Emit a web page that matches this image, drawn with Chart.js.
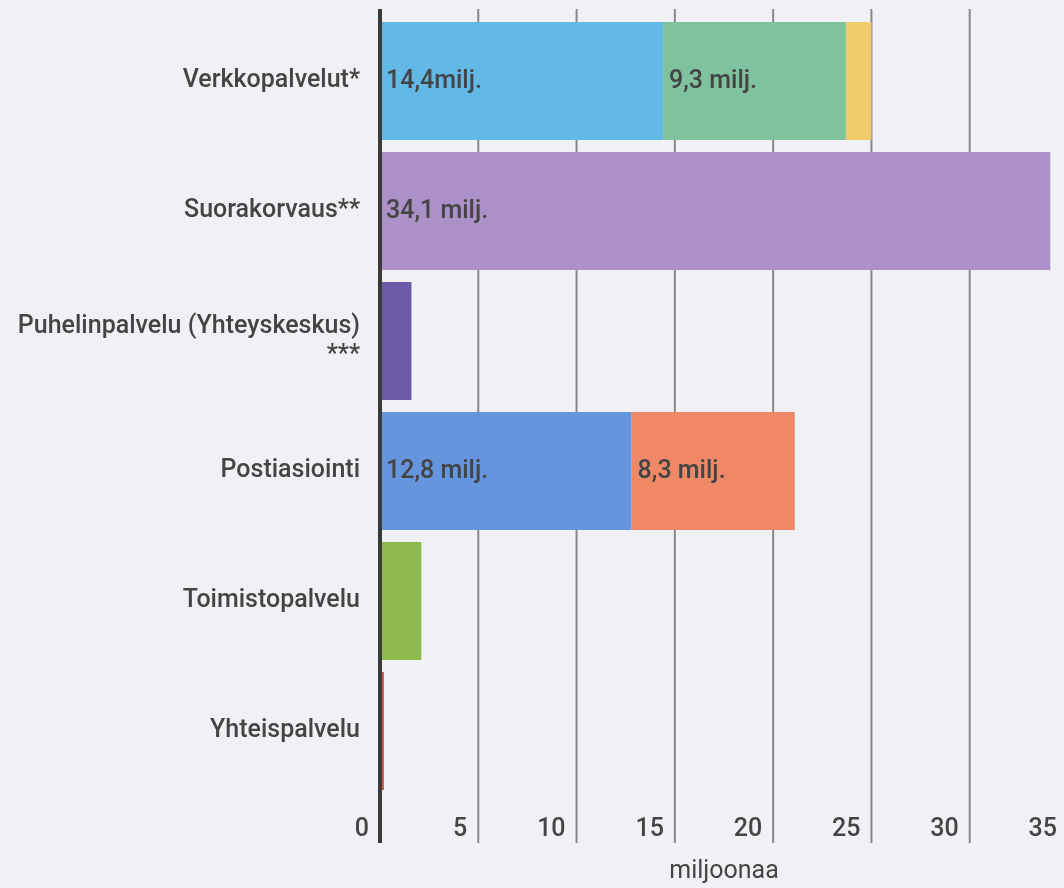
<!DOCTYPE html>
<html>
<head>
<meta charset="utf-8">
<script src="https://cdn.jsdelivr.net/npm/chart.js@4"></script>
<style>
    html, body { margin: 0; padding: 0; overflow: hidden; background: #f0f1f4; }
</style>
</head>
<body>
<canvas id="serviceChart" width="1068" height="888"></canvas>
<script>
// Categories (y axis)
const categories = [
    "Verkkopalvelut*",
    "Suorakorvaus**",
    ["Puhelinpalvelu (Yhteyskeskus)", "***"],
    "Postiasiointi",
    "Toimistopalvelu",
    "Yhteispalvelu"
];

// One segment per colour: [category index, value, label text]
const verkko1 = [0, 14.4, "14,4milj."];
const verkko2 = [0, 9.3, "9,3 milj."];
const verkko3 = [0, 1.3, ""];
const suora = [1, 34.1, "34,1 milj."];
const puhelin = [2, 1.6, ""];
const posti1 = [3, 12.8, "12,8 milj."];
const posti2 = [3, 8.3, "8,3 milj."];
const toimisto = [4, 2.1, ""];
const yhteis = [5, 0.2, ""];

const xTicks = [0, 5, 10, 15, 20, 25, 30, 35];

const segments = [verkko1, verkko2, verkko3, suora, puhelin, posti1, posti2, toimisto, yhteis];
const colors = ["#62b8e6", "#7ec39d", "#efcb69", "#ac91c8", "#6b5aa8", "#6595dd", "#ee8866", "#8fbb4c", "#d4583a"];

const datasets = segments.map((s, i) => {
    const data = categories.map((c, j) => j === s[0] ? s[1] : null);
    return {
        label: s[2],
        data: data,
        backgroundColor: colors[i],
        borderWidth: 0,
        barPercentage: 0.908,
        categoryPercentage: 1
    };
});

// grid lines behind bars, axis line on top, value labels in segments
const customDraw = {
    id: "customDraw",
    beforeDatasetsDraw(chart) {
        const ctx = chart.ctx;
        const x = chart.scales.x;
        ctx.save();
        ctx.strokeStyle = "#888888";
        ctx.lineWidth = 2;
        xTicks.forEach(t => {
            if (t === 0) return;
            const px = x.getPixelForValue(t);
            ctx.beginPath();
            ctx.moveTo(px, 9);
            ctx.lineTo(px, 843);
            ctx.stroke();
        });
        ctx.restore();
    },
    afterDatasetsDraw(chart) {
        const ctx = chart.ctx;
        const x = chart.scales.x;
        ctx.save();
        ctx.font = "500 25px Roboto";
        ctx.fillStyle = "#444444";
        ctx.textAlign = "left";
        ctx.textBaseline = "middle";
        chart.data.datasets.forEach((ds, i) => {
            if (!ds.label) return;
            const meta = chart.getDatasetMeta(i);
            meta.data.forEach((bar, j) => {
                if (ds.data[j] == null) return;
                ctx.fillText(ds.label, Math.min(bar.base, bar.x) + 6, bar.y + 1);
            });
        });
        const zx = x.getPixelForValue(0);
        ctx.strokeStyle = "#3a3a3a";
        ctx.lineWidth = 4;
        ctx.beginPath();
        ctx.moveTo(zx, 9);
        ctx.lineTo(zx, 843);
        ctx.stroke();
        ctx.restore();
    }
};

function noPadding(scale) {
    scale.paddingLeft = 0;
    scale.paddingRight = 0;
    scale.paddingTop = 0;
    scale.paddingBottom = 0;
}

new Chart(document.getElementById("serviceChart"), {
    type: "bar",
    data: {
        labels: categories,
        datasets: datasets
    },
    options: {
        indexAxis: "y",
        responsive: false,
        animation: false,
        layout: { padding: { top: 16, left: 0, right: 0, bottom: 0 } },
        plugins: {
            legend: { display: false },
            tooltip: { enabled: false }
        },
        scales: {
            x: {
                stacked: true,
                min: 0,
                max: 35,
                afterBuildTicks: (scale) => { scale.ticks = xTicks.map(v => ({ value: v })); },
                afterFit: (scale) => { scale.height = 92; noPadding(scale); },
                border: { display: false },
                grid: { display: false, drawTicks: false },
                ticks: {
                    align: "end",
                    labelOffset: -11,
                    padding: 19,
                    color: "#444444",
                    font: { family: "Roboto", size: 25, weight: "500" },
                    maxRotation: 0
                },
                title: {
                    display: true,
                    text: "miljoonaa",
                    color: "#444444",
                    font: { family: "Roboto", size: 25 },
                    padding: { top: 0, bottom: 1 }
                }
            },
            y: {
                stacked: true,
                afterFit: (scale) => { scale.width = 380; noPadding(scale); },
                border: { display: false },
                grid: { display: false, drawTicks: false },
                ticks: {
                    padding: 20,
                    color: "#444444",
                    font: { family: "Roboto", size: 25, weight: "500", lineHeight: 1.15 }
                }
            }
        }
    },
    plugins: [customDraw]
});
</script>
</body>
</html>
